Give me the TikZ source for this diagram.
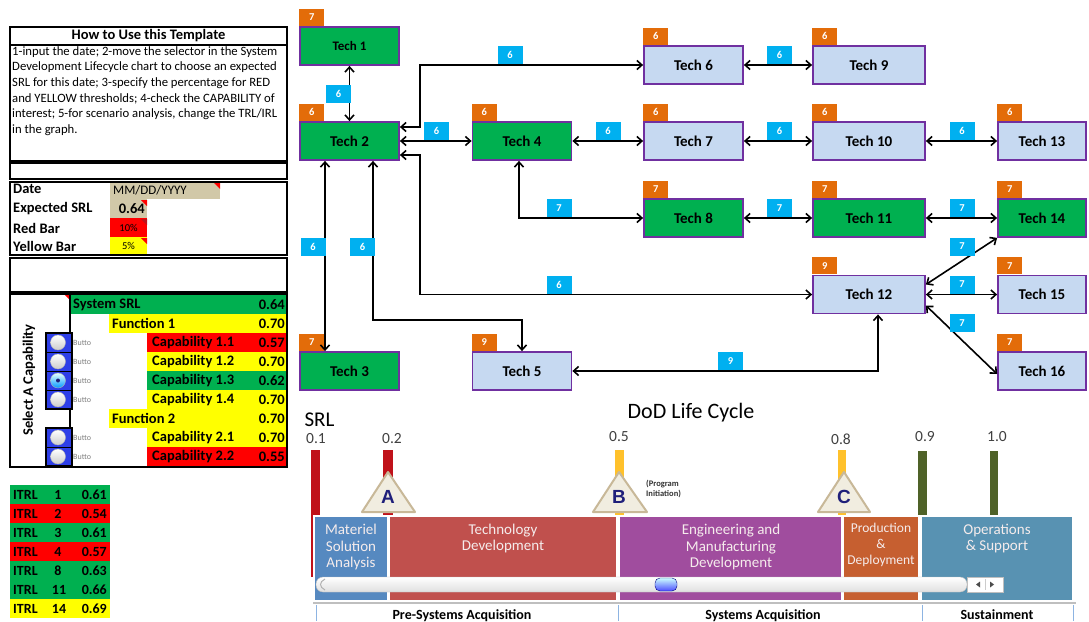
\documentclass[tikz,border=0pt]{standalone}
\usepackage{fontspec}
\setmainfont{Carlito}
\newfontfamily\arialfont{Liberation Sans}
\usetikzlibrary{arrows.meta,positioning}
\definecolor{techgreen}{HTML}{00B050}
\definecolor{techblue}{HTML}{C6D9F1}
\definecolor{techpurple}{HTML}{7030A0}
\definecolor{badgeorange}{HTML}{E36C09}
\definecolor{labelblue}{HTML}{00B0F0}
\definecolor{xred}{HTML}{FF0000}
\definecolor{xyellow}{HTML}{FFFF00}
\definecolor{xgreen}{HTML}{00B050}
\definecolor{celltan}{HTML}{D1C8A8}
\definecolor{btnblue}{HTML}{2E3FE8}
\definecolor{msablue}{HTML}{5689C0}
\definecolor{tdred}{HTML}{C0504D}
\definecolor{emdpurple}{HTML}{A04D9E}
\definecolor{pdorange}{HTML}{C65F30}
\definecolor{osblue}{HTML}{5892B2}
\definecolor{barred}{HTML}{C0121A}
\definecolor{baryellow}{HTML}{FFC12B}
\definecolor{bargreen}{HTML}{4F6228}
\definecolor{trifill}{HTML}{F1EDE0}
\definecolor{tridraw}{HTML}{C8B898}
\definecolor{letternavy}{HTML}{1F1F7A}
\definecolor{phasetext}{HTML}{F5ECEC}
\definecolor{bracketblue}{HTML}{8DB4E2}
\tikzset{
  tech/.style={draw=techpurple, line width=1.8pt, minimum height=38pt, inner sep=0pt, font=\fontsize{15}{16}\selectfont\bfseries},
  greentech/.style={tech, fill=techgreen},
  bluetech/.style={tech, fill=techblue},
  badge/.style={fill=badgeorange, text=white, minimum width=25pt, minimum height=17pt, inner sep=0pt, anchor=south west, font=\fontsize{10.5}{11}\selectfont\bfseries},
  trl/.style={fill=labelblue, text=white, minimum width=25pt, minimum height=18pt, inner sep=0pt, font=\fontsize{10.5}{11}\selectfont\bfseries},
  link/.style={draw=black, line width=1.6pt, {Straight Barb[length=5pt,width=9pt]}-{Straight Barb[length=5pt,width=9pt]}},
  panel/.style={draw=black, line width=1.3pt},
  lbl/.style={anchor=west, inner sep=0pt, font=\fontsize{14.5}{16}\selectfont\bfseries},
  rowtxt/.style={anchor=west, inner sep=0pt, font=\fontsize{14.5}{16}\selectfont\bfseries},
  rowval/.style={anchor=east, inner sep=0pt, font=\fontsize{14.5}{16}\selectfont\bfseries},
  radio/.style={circle, minimum size=15pt, inner sep=0pt, draw=gray!60, top color=white, bottom color=gray!40},
  butto/.style={anchor=west, inner sep=0pt, text=gray, font=\fontsize{8}{9}\selectfont},
  itrl/.style={inner sep=0pt, font=\fontsize{14}{15}\selectfont\bfseries},
  srlnum/.style={text=black!75, font=\fontsize{15.5}{16}\selectfont},
  milestone/.style={fill=trifill, draw=tridraw, line width=2pt, line join=round},
  msl/.style={text=letternavy, font=\fontsize{19}{20}\selectfont\arialfont\bfseries},
  phase/.style={align=center, text=phasetext, inner sep=0pt, font=\fontsize{15}{16.5}\selectfont},
  bracket/.style={draw=bracketblue, line width=1pt},
  stage/.style={anchor=base, font=\fontsize{14}{16}\selectfont\bfseries}
}
\begin{document}
\begin{tikzpicture}[x=1pt,y=-1pt]
  \useasboundingbox (0,0) rectangle (1089,621);
  \fill[white] (0,0) rectangle (1089,621);
  \clip (0,0) rectangle (1089,621);

  \fill[celltan] (110,182) rectangle (220,199);
  \fill[celltan] (110,199) rectangle (147,218);
  \fill[xred] (110,218) rectangle (147,237);
  \fill[xyellow] (110,237) rectangle (147,255);
  \fill[xred] (214,183) -- (220,183) -- (220,189) -- cycle;
  \fill[xred] (141,200) -- (147,200) -- (147,206) -- cycle;
  \fill[barred] (141,219) -- (147,219) -- (147,225) -- cycle;
  \fill[xred] (141,238) -- (147,238) -- (147,244) -- cycle;

  \fill[xgreen] (70,295) rectangle (287,314);
  \fill[xyellow] (109,314) rectangle (287,333);
  \fill[xred] (147,333) rectangle (287,352);
  \fill[xyellow] (147,352) rectangle (287,371);
  \fill[xgreen] (147,371) rectangle (287,390);
  \fill[xyellow] (147,390) rectangle (287,409);
  \fill[xyellow] (109,409) rectangle (287,428);
  \fill[xyellow] (147,428) rectangle (287,447);
  \fill[xred] (147,447) rectangle (287,466);
  \fill[xred] (64,294) -- (70,294) -- (70,300) -- cycle;

  \draw[panel] (10,27) rectangle (287,161);
  \draw[panel] (10,45) -- (287,45);
  \draw[panel] (10,163) rectangle (287,179);
  \draw[panel] (10,182) rectangle (287,255);
  \draw[panel] (10,258) rectangle (287,292);
  \draw[panel] (10,294) rectangle (287,467);
  \draw[line width=1.2pt] (70,294) -- (70,467);

  \node[font=\fontsize{14.5}{16}\selectfont\bfseries] (howto) at (148.5,36) {How to Use this Template};
  \node[anchor=north west, align=left, inner sep=0pt, font=\fontsize{12.7}{15.7}\selectfont] (steps) at (12,46)
    {1-input the date; 2-move the selector in the System\\Development Lifecycle chart to choose an expected\\SRL for this date; 3-specify the percentage for RED\\and YELLOW thresholds; 4-check the CAPABILITY of\\interest; 5-for scenario analysis, change the TRL/IRL\\in the graph.};

  \node[lbl] (date) at (13,189) {Date};
  \node[lbl] (esrl) at (13,209) {Expected SRL};
  \node[lbl] (redbar) at (13,228) {Red Bar};
  \node[lbl] (yelbar) at (13,246) {Yellow Bar};
  \node[anchor=west, inner sep=0pt, font=\fontsize{13}{14}\selectfont] (dateval) at (113,190) {MM/DD/YYYY};
  \node[rowval] (srlval) at (145,209) {0.64};
  \node[font=\fontsize{10.5}{12}\selectfont] (redval) at (128.5,228) {10\%};
  \node[font=\fontsize{10.5}{12}\selectfont] (yelval) at (128.5,246) {5\%};

  \node[rotate=90, font=\fontsize{14.5}{16}\selectfont\bfseries] (select) at (29,380) {Select A Capability};
  \node[rowtxt] (sys) at (73,304.5) {System SRL};
  \node[rowval] (sysv) at (285,304.5) {0.64};
  \node[rowtxt] (f1) at (112,323.5) {Function 1};
  \node[rowval] (f1v) at (285,323.5) {0.70};
  \node[rowtxt] (c11) at (152,342.5) {Capability 1.1};
  \node[rowval] (c11v) at (285,342.5) {0.57};
  \node[rowtxt] (c12) at (152,361.5) {Capability 1.2};
  \node[rowval] (c12v) at (285,361.5) {0.70};
  \node[rowtxt] (c13) at (152,380.5) {Capability 1.3};
  \node[rowval] (c13v) at (285,380.5) {0.62};
  \node[rowtxt] (c14) at (152,399.5) {Capability 1.4};
  \node[rowval] (c14v) at (285,399.5) {0.70};
  \node[rowtxt] (f2) at (112,418.5) {Function 2};
  \node[rowval] (f2v) at (285,418.5) {0.70};
  \node[rowtxt] (c21) at (152,437.5) {Capability 2.1};
  \node[rowval] (c21v) at (285,437.5) {0.70};
  \node[rowtxt] (c22) at (152,456.5) {Capability 2.2};
  \node[rowval] (c22v) at (285,456.5) {0.55};

  \draw[fill=btnblue] (46,333) rectangle (72,352);
  \draw[fill=btnblue] (46,352) rectangle (72,371);
  \draw[fill=btnblue] (46,371) rectangle (72,390);
  \draw[fill=btnblue] (46,390) rectangle (72,409);
  \draw[fill=btnblue] (46,428) rectangle (72,447);
  \draw[fill=btnblue] (46,447) rectangle (72,466);
  \draw[line width=1.2pt] (46,333) rectangle (72,409);
  \draw[line width=1.2pt] (46,428) rectangle (72,466);
  \node[radio] (r1) at (58,342.5) {};
  \node[radio] (r2) at (58,361.5) {};
  \node[radio, top color=cyan!10, bottom color=cyan!60!blue] (r3) at (58,380.5) {};
  \fill[letternavy] (r3) circle (2pt);
  \node[radio] (r4) at (58,399.5) {};
  \node[radio] (r5) at (58,437.5) {};
  \node[radio] (r6) at (58,456.5) {};
  \node[butto] (bt1) at (73,342.5) {Butto};
  \node[butto] (bt2) at (73,361.5) {Butto};
  \node[butto] (bt3) at (73,380.5) {Butto};
  \node[butto] (bt4) at (73,399.5) {Butto};
  \node[butto] (bt5) at (73,437.5) {Butto};
  \node[butto] (bt6) at (73,456.5) {Butto};

  \fill[xgreen] (10,485) rectangle (110,504);
  \fill[xred] (10,504) rectangle (110,523);
  \fill[xgreen] (10,523) rectangle (110,542);
  \fill[xred] (10,542) rectangle (110,561);
  \fill[xgreen] (10,561) rectangle (110,580);
  \fill[xgreen] (10,580) rectangle (110,599);
  \fill[xyellow] (10,599) rectangle (110,618);
  \node[itrl, anchor=west] (i1a) at (13,494.5) {ITRL};
  \node[itrl] (i1b) at (58,494.5) {1};
  \node[itrl, anchor=east] (i1c) at (107,494.5) {0.61};
  \node[itrl, anchor=west] (i2a) at (13,513.5) {ITRL};
  \node[itrl] (i2b) at (58,513.5) {2};
  \node[itrl, anchor=east] (i2c) at (107,513.5) {0.54};
  \node[itrl, anchor=west] (i3a) at (13,532.5) {ITRL};
  \node[itrl] (i3b) at (58,532.5) {3};
  \node[itrl, anchor=east] (i3c) at (107,532.5) {0.61};
  \node[itrl, anchor=west] (i4a) at (13,551.5) {ITRL};
  \node[itrl] (i4b) at (58,551.5) {4};
  \node[itrl, anchor=east] (i4c) at (107,551.5) {0.57};
  \node[itrl, anchor=west] (i8a) at (13,570.5) {ITRL};
  \node[itrl] (i8b) at (58,570.5) {8};
  \node[itrl, anchor=east] (i8c) at (107,570.5) {0.63};
  \node[itrl, anchor=west] (i11a) at (13,589.5) {ITRL};
  \node[itrl] (i11b) at (59,589.5) {11};
  \node[itrl, anchor=east] (i11c) at (107,589.5) {0.66};
  \node[itrl, anchor=west] (i14a) at (13,608.5) {ITRL};
  \node[itrl] (i14b) at (59,608.5) {14};
  \node[itrl, anchor=east] (i14c) at (107,608.5) {0.69};

  \node[greentech, minimum width=99pt, font=\fontsize{13}{14}\selectfont\bfseries] (t1) at (349.5,46) {Tech 1};
  \node[greentech, minimum width=99pt] (t2) at (349.5,141) {Tech 2};
  \node[greentech, minimum width=99pt] (t3) at (349.5,371) {Tech 3};
  \node[greentech, minimum width=99pt] (t4) at (522,141) {Tech 4};
  \node[bluetech, minimum width=99pt] (t5) at (522,371) {Tech 5};
  \node[bluetech, minimum width=99pt] (t6) at (693.5,65) {Tech 6};
  \node[bluetech, minimum width=99pt] (t7) at (693.5,141) {Tech 7};
  \node[greentech, minimum width=99pt] (t8) at (693.5,218) {Tech 8};
  \node[bluetech, minimum width=112pt] (t9) at (869,65) {Tech 9};
  \node[bluetech, minimum width=112pt] (t10) at (869,141) {Tech 10};
  \node[greentech, minimum width=112pt] (t11) at (869,218) {Tech 11};
  \node[bluetech, minimum width=112pt] (t12) at (869,294.5) {Tech 12};
  \node[bluetech, minimum width=88pt] (t13) at (1042,141) {Tech 13};
  \node[greentech, minimum width=88pt] (t14) at (1042,218) {Tech 14};
  \node[bluetech, minimum width=88pt] (t15) at (1042,294.5) {Tech 15};
  \node[bluetech, minimum width=88pt] (t16) at (1042,371) {Tech 16};

  \node[badge] (b1) at (t1.north west) {7};
  \node[badge] (b2) at (t2.north west) {6};
  \node[badge] (b3) at (t3.north west) {7};
  \node[badge] (b4) at (t4.north west) {6};
  \node[badge] (b5) at (t5.north west) {9};
  \node[badge] (b6) at (t6.north west) {6};
  \node[badge] (b7) at (t7.north west) {6};
  \node[badge] (b8) at (t8.north west) {7};
  \node[badge] (b9) at (t9.north west) {6};
  \node[badge] (b10) at (t10.north west) {6};
  \node[badge] (b11) at (t11.north west) {7};
  \node[badge] (b12) at (t12.north west) {9};
  \node[badge] (b13) at (t13.north west) {6};
  \node[badge] (b14) at (t14.north west) {7};
  \node[badge] (b15) at (t15.north west) {7};
  \node[badge] (b16) at (t16.north west) {7};

  \begin{scope}[link]
    \draw (t1) -- (t2);
    \draw (t2) -- (t4);
    \draw (t4) -- (t7);
    \draw (t6) -- (t9);
    \draw (t7) -- (t10);
    \draw (t10) -- (t13);
    \draw (t8) -- (t11);
    \draw (t11) -- (t14);
    \draw (t12) -- (t15);
    \draw ([yshift=10pt]t12.east) -- (t14.south west);
    \draw ([yshift=-11pt]t12.east) -- ([yshift=-3pt]t16.west);
    \draw ([yshift=14pt]t2.east) -- ++(20,0) |- (t6.west);
    \draw ([yshift=-14pt]t2.east) -- ++(20,0) |- (t12.west);
    \draw ([xshift=-3pt]t4.south) |- (t8.west);
    \draw ([xshift=-24.5pt]t2.south) -- ([xshift=-24.5pt]t3.north);
    \draw ([xshift=23.5pt]t2.south) -- ++(0,159) -| (t5.north);
    \draw (t5.east) -| ([xshift=9pt]t12.south);
  \end{scope}

  \node[trl] (l12) at (338.5,93.5) {6};
  \node[trl] (l26) at (510,54.5) {6};
  \node[trl] (l24) at (436.5,131) {6};
  \node[trl] (l47) at (608,131) {6};
  \node[trl] (l69) at (779.5,54.5) {6};
  \node[trl] (l710) at (779.5,131) {6};
  \node[trl] (l1013) at (962,131) {6};
  \node[trl] (l48) at (559,208) {7};
  \node[trl] (l811) at (779.5,208) {7};
  \node[trl] (l1114) at (962,208) {7};
  \node[trl] (l1214) at (962,246.5) {7};
  \node[trl] (l1215) at (962,284.5) {7};
  \node[trl] (l1216) at (962,323) {7};
  \node[trl] (l212) at (559,284.5) {6};
  \node[trl] (l23) at (313,247) {6};
  \node[trl] (l25) at (362.5,247) {6};
  \node[trl] (l512) at (730.5,361) {9};

  \node[font=\fontsize{22}{24}\selectfont] (dod) at (691,413) {DoD Life Cycle};
  \node[font=\fontsize{21}{24}\selectfont] (srl) at (319.5,420) {SRL};
  \node[srlnum] (n01) at (316,439) {0.1};
  \node[srlnum] (n02) at (392,439) {0.2};
  \node[srlnum] (n05) at (619,437) {0.5};
  \node[srlnum] (n08) at (841,439) {0.8};
  \node[srlnum] (n09) at (925,437) {0.9};
  \node[srlnum] (n10) at (997,437) {1.0};

  \fill[barred] (311,450) rectangle (320,515);
  \draw[barred, line width=1.2pt] (312,515) -- (312,577);
  \fill[barred] (383,450) rectangle (393,515);
  \fill[baryellow] (615,450) rectangle (624,515);
  \fill[baryellow] (838,450) rectangle (846,515);
  \fill[bargreen] (918,451) rectangle (927,515);
  \fill[bargreen] (990,451) rectangle (998,515);

  \draw[milestone] (362,512) -- (388,472) -- (415,512) -- cycle;
  \draw[milestone] (593,512) -- (619,472) -- (647,512) -- cycle;
  \draw[milestone] (818,512) -- (844,472) -- (870,512) -- cycle;
  \node[msl] (ma) at (388,497) {A};
  \node[msl] (mb) at (619,497) {B};
  \node[msl] (mc) at (844,497) {C};
  \node[anchor=west, align=left, inner sep=0pt, text=black!80, font=\fontsize{8.5}{10}\selectfont\bfseries] (prog) at (646,489) {(Program\\Initiation)};

  \fill[msablue] (315,517) rectangle (387,600);
  \fill[tdred] (390,517) rectangle (616,600);
  \fill[emdpurple] (620,517) rectangle (841,600);
  \fill[pdorange] (844,517) rectangle (918,600);
  \fill[osblue] (922,517) rectangle (1072,600);
  \node[phase] (msa) at (351,547) {Materiel\\Solution\\Analysis};
  \node[phase] (td) at (503,538.5) {Technology\\Development};
  \node[phase] (emd) at (731,547) {Engineering and\\Manufacturing\\Development};
  \node[phase, font=\fontsize{13.5}{16}\selectfont] (pd) at (881,545) {Production\\\&\\Deployment};
  \node[phase] (os) at (997,538.5) {Operations\\\& Support};

  \draw[gray!50, top color=white, bottom color=gray!25, rounded corners=7pt] (316,577) rectangle (967,592);
  \draw[gray!60, line width=1pt] (325,579) .. controls (319,582) and (319,587) .. (325,590);
  \draw[gray!50, fill=white] (967,577) rectangle (1003,592);
  \draw[gray!40] (985,579) -- (985,590);
  \fill[gray!60!black] (976,584.5) -- (980,581.5) -- (980,587.5) -- cycle;
  \fill[gray!60!black] (994,584.5) -- (990,581.5) -- (990,587.5) -- cycle;
  \draw[blue!50!black, top color=cyan!20, bottom color=blue!70, rounded corners=5pt] (655,578) rectangle (677,591);

  \draw[gray!50, line width=1.2pt] (313,603) -- (1076,603);
  \draw[bracket] (316,605) -- (316,621);
  \draw[bracket] (618,605) -- (618,621);
  \draw[bracket] (922,605) -- (922,621);
  \draw[bracket] (1073,605) -- (1073,621);
  \node[stage] (pre) at (462,619) {Pre-Systems Acquisition};
  \node[stage] (sys-acq) at (763,619) {Systems Acquisition};
  \node[stage] (sus) at (997,619) {Sustainment};
\end{tikzpicture}
\end{document}
